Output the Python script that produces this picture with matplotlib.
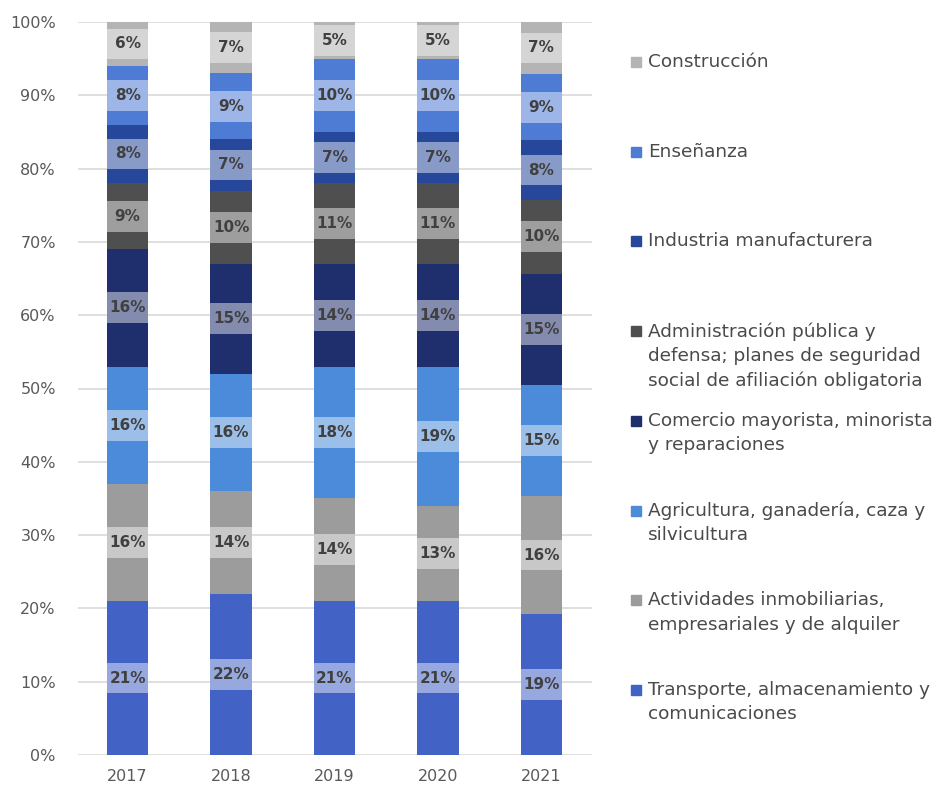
import numpy as np
import matplotlib
matplotlib.use("Agg")
import matplotlib.pyplot as plt
from matplotlib.patches import Rectangle

plt.rcParams['font.family'] = ['DejaVu Sans']

#%% datos

years = ['2017', '2018', '2019', '2020', '2021']

# de abajo hacia arriba en la barra
sectors = ['Transporte, almacenamiento y\ncomunicaciones',
           'Actividades inmobiliarias,\nempresariales y de alquiler',
           'Agricultura, ganadería, caza y\nsilvicultura',
           'Comercio mayorista, minorista\ny reparaciones',
           'Administración pública y\ndefensa; planes de seguridad\nsocial de afiliación obligatoria',
           'Industria manufacturera',
           'Enseñanza',
           'Construcción']

transporte   = [21, 22, 21, 21, 19]
actividades  = [16, 14, 14, 13, 16]
agricultura  = [16, 16, 18, 19, 15]
comercio     = [16, 15, 14, 14, 15]
administracion = [9, 10, 11, 11, 10]
industria    = [8, 7, 7, 7, 8]
ensenanza    = [8, 9, 10, 10, 9]
construccion = [6, 7, 5, 5, 7]

series = [transporte, actividades, agricultura, comercio,
          administracion, industria, ensenanza, construccion]

colors = ['#4262C6', '#9C9C9C', '#4C8BDA', '#1F2F6E',
          '#4F4F4F', '#27489A', '#4E7BD4', '#B4B4B4']

#%% grafico

fig = plt.figure(figsize=(9.42, 7.91), dpi=100)
ax = fig.add_axes([78/942, 36/791, 514/942, 733/791])

x = np.arange(len(years))
totals = np.sum(series, axis=0)
bottom = np.zeros(len(years))
band = 4.2
w = 0.4

for vals, col in zip(series, colors):
    vals = np.array(vals, dtype=float)
    share = vals / totals * 100
    ax.bar(x, share, w, bottom=bottom, color=col, zorder=2)
    mid = bottom + share / 2
    ax.bar(x, band, w, bottom=mid - band / 2, color='white', alpha=0.45,
           linewidth=0, zorder=3)
    for xi, m, v in zip(x, mid, vals):
        ax.text(xi, m, f'{int(v)}%', ha='center', va='center', fontsize=11,
                fontweight='bold', color='#404040', zorder=4)
    bottom += share

ax.set_ylim(0, 100)
ax.set_xlim(-0.48, 4.49)
ax.set_yticks(np.arange(0, 101, 10))
ax.set_yticklabels([f'{v}%' for v in range(0, 101, 10)])
ax.set_xticks(x)
ax.set_xticklabels(years)
ax.yaxis.grid(True, color='#D9D9D9', linewidth=1.2, zorder=0)
ax.set_axisbelow(True)
for s in ax.spines.values():
    s.set_visible(False)
ax.tick_params(length=0, labelsize=11.5, colors='#595959', pad=16)
ax.tick_params(axis='x', pad=10)

# leyenda a mano, espaciado uniforme como en Excel
leg_top = 62
leg_step = 89.7
for i, (lab, col) in enumerate(zip(sectors[::-1], colors[::-1])):
    yc = leg_top + i * leg_step
    fig.patches.append(Rectangle((631/942, 1 - (yc + 5)/791), 10/942, 10/791,
                                 transform=fig.transFigure, color=col))
    fig.text(648/942, 1 - (yc - 9)/791, lab, va='top', ha='left',
             fontsize=13.3, color='#4A4A4A', linespacing=1.45)

fig.savefig('out.png', dpi=100)
